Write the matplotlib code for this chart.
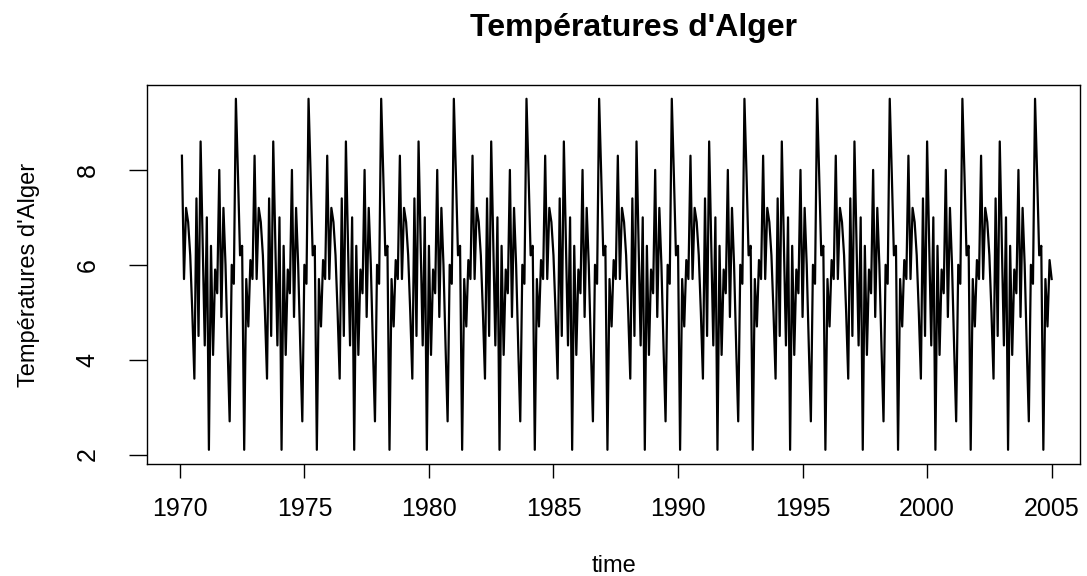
import numpy as np
import matplotlib.pyplot as plt

plt.rcParams['font.family'] = ['Liberation Sans', 'DejaVu Sans']

# monthly readings, Feb 1970 to Jan 2005 (one row per 35-month block)
temperatures = [
    8.3, 5.7, 7.2, 6.9, 6.2, 5.0, 3.6, 7.4, 4.5, 8.6, 6.5, 4.3, 7.0, 2.1, 6.4, 4.1, 5.9, 5.4, 8.0, 4.9, 7.2, 6.0, 4.3, 2.7, 6.0, 5.6, 9.5, 7.9, 6.2, 6.4, 2.1, 5.7, 4.7, 6.1, 5.7,
    8.3, 5.7, 7.2, 6.9, 6.2, 5.0, 3.6, 7.4, 4.5, 8.6, 6.5, 4.3, 7.0, 2.1, 6.4, 4.1, 5.9, 5.4, 8.0, 4.9, 7.2, 6.0, 4.3, 2.7, 6.0, 5.6, 9.5, 7.9, 6.2, 6.4, 2.1, 5.7, 4.7, 6.1, 5.7,
    8.3, 5.7, 7.2, 6.9, 6.2, 5.0, 3.6, 7.4, 4.5, 8.6, 6.5, 4.3, 7.0, 2.1, 6.4, 4.1, 5.9, 5.4, 8.0, 4.9, 7.2, 6.0, 4.3, 2.7, 6.0, 5.6, 9.5, 7.9, 6.2, 6.4, 2.1, 5.7, 4.7, 6.1, 5.7,
    8.3, 5.7, 7.2, 6.9, 6.2, 5.0, 3.6, 7.4, 4.5, 8.6, 6.5, 4.3, 7.0, 2.1, 6.4, 4.1, 5.9, 5.4, 8.0, 4.9, 7.2, 6.0, 4.3, 2.7, 6.0, 5.6, 9.5, 7.9, 6.2, 6.4, 2.1, 5.7, 4.7, 6.1, 5.7,
    8.3, 5.7, 7.2, 6.9, 6.2, 5.0, 3.6, 7.4, 4.5, 8.6, 6.5, 4.3, 7.0, 2.1, 6.4, 4.1, 5.9, 5.4, 8.0, 4.9, 7.2, 6.0, 4.3, 2.7, 6.0, 5.6, 9.5, 7.9, 6.2, 6.4, 2.1, 5.7, 4.7, 6.1, 5.7,
    8.3, 5.7, 7.2, 6.9, 6.2, 5.0, 3.6, 7.4, 4.5, 8.6, 6.5, 4.3, 7.0, 2.1, 6.4, 4.1, 5.9, 5.4, 8.0, 4.9, 7.2, 6.0, 4.3, 2.7, 6.0, 5.6, 9.5, 7.9, 6.2, 6.4, 2.1, 5.7, 4.7, 6.1, 5.7,
    8.3, 5.7, 7.2, 6.9, 6.2, 5.0, 3.6, 7.4, 4.5, 8.6, 6.5, 4.3, 7.0, 2.1, 6.4, 4.1, 5.9, 5.4, 8.0, 4.9, 7.2, 6.0, 4.3, 2.7, 6.0, 5.6, 9.5, 7.9, 6.2, 6.4, 2.1, 5.7, 4.7, 6.1, 5.7,
    8.3, 5.7, 7.2, 6.9, 6.2, 5.0, 3.6, 7.4, 4.5, 8.6, 6.5, 4.3, 7.0, 2.1, 6.4, 4.1, 5.9, 5.4, 8.0, 4.9, 7.2, 6.0, 4.3, 2.7, 6.0, 5.6, 9.5, 7.9, 6.2, 6.4, 2.1, 5.7, 4.7, 6.1, 5.7,
    8.3, 5.7, 7.2, 6.9, 6.2, 5.0, 3.6, 7.4, 4.5, 8.6, 6.5, 4.3, 7.0, 2.1, 6.4, 4.1, 5.9, 5.4, 8.0, 4.9, 7.2, 6.0, 4.3, 2.7, 6.0, 5.6, 9.5, 7.9, 6.2, 6.4, 2.1, 5.7, 4.7, 6.1, 5.7,
    8.3, 5.7, 7.2, 6.9, 6.2, 5.0, 3.6, 7.4, 4.5, 8.6, 6.5, 4.3, 7.0, 2.1, 6.4, 4.1, 5.9, 5.4, 8.0, 4.9, 7.2, 6.0, 4.3, 2.7, 6.0, 5.6, 9.5, 7.9, 6.2, 6.4, 2.1, 5.7, 4.7, 6.1, 5.7,
    8.3, 5.7, 7.2, 6.9, 6.2, 5.0, 3.6, 7.4, 4.5, 8.6, 6.5, 4.3, 7.0, 2.1, 6.4, 4.1, 5.9, 5.4, 8.0, 4.9, 7.2, 6.0, 4.3, 2.7, 6.0, 5.6, 9.5, 7.9, 6.2, 6.4, 2.1, 5.7, 4.7, 6.1, 5.7,
    8.3, 5.7, 7.2, 6.9, 6.2, 5.0, 3.6, 7.4, 4.5, 8.6, 6.5, 4.3, 7.0, 2.1, 6.4, 4.1, 5.9, 5.4, 8.0, 4.9, 7.2, 6.0, 4.3, 2.7, 6.0, 5.6, 9.5, 7.9, 6.2, 6.4, 2.1, 5.7, 4.7, 6.1, 5.7,
]
start_year = 1970
start_month = 2
x_ticks = [1970, 1975, 1980, 1985, 1990, 1995, 2000, 2005]
y_ticks = [2, 4, 6, 8]

time = start_year + (start_month - 1 + np.arange(len(temperatures))) / 12

fig = plt.figure(figsize=(10.87, 5.76), dpi=100)
ax = fig.add_axes([0.1352, 0.1944, 0.8584, 0.6580])
ax.plot(time, temperatures, color='black', lw=1.6)

ax.set_xlim(1968.68, 2006.14)
ax.set_ylim(1.80, 9.79)
ax.set_xticks(x_ticks)
ax.set_yticks(y_ticks)
ax.tick_params(direction='out', width=1, labelsize=18)
ax.tick_params(axis='x', length=10, pad=14)
ax.tick_params(axis='y', length=13, pad=21)
for lbl in ax.get_yticklabels():
    lbl.set_rotation(90)
    lbl.set_va('center')
for s in ax.spines.values():
    s.set_linewidth(1)

ax.set_xlabel('time', fontsize=17, labelpad=24)
ax.set_ylabel("Températures d'Alger", fontsize=17, labelpad=26)
fig.text(0.583, 0.951, "Températures d'Alger", ha='center', va='center',
         fontsize=23, fontweight='bold')

fig.savefig('out.png', dpi=100)
